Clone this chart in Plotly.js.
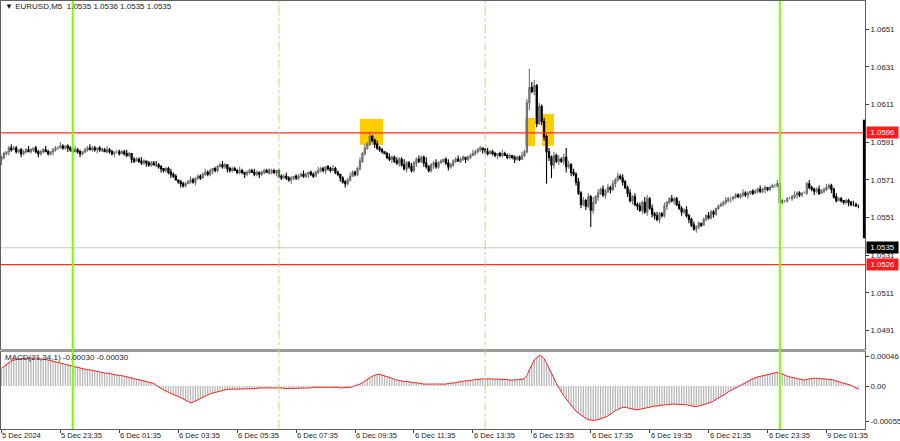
<!DOCTYPE html>
<html><head><meta charset="utf-8">
<script src="https://cdn.plot.ly/plotly-3.0.1.min.js"></script>
<style>html,body{margin:0;padding:0;background:#fff;}#chart{width:900px;height:441px;}</style>
</head><body><div id="chart"></div>
<script>
// ---- data (prices in pips above basePrice; MACD in points of 0.00001) ----
const basePrice = 1.05;
const firstOpen = 82;
const closePips = [
83,85,86,88,87,88,86,87,85,86,87,86,87,88,86,85,86,87,86,85,86,87,88,88,89,
88,89,88,87,86,87,86,85,86,87,88,87,88,87,88,87,87,86,87,86,85,86,86,85,86,
85,84,85,82,81,82,81,80,81,80,79,80,79,79,78,77,76,77,75,74,73,71,70,69,68,
69,70,71,70,72,73,72,74,75,74,76,77,76,78,79,78,79,77,76,77,76,75,76,75,74,
75,76,75,74,75,74,75,76,75,75,76,75,76,73,72,73,72,71,72,73,72,73,74,73,74,
75,74,73,75,76,77,76,78,77,76,77,75,74,72,70,69,71,73,75,74,77,81,85,88,90,
94,92,90,88,87,86,85,83,82,83,81,80,82,79,77,80,78,76,80,82,81,83,80,78,76,
79,80,78,80,81,82,80,78,79,81,82,81,82,83,82,83,84,85,86,87,88,87,86,85,86,
85,84,85,84,85,84,83,84,83,82,83,82,84,86,112,120,118,121,101,110,102,94,86,83,79,
84,81,82,81,83,78,79,75,74,70,64,58,60,57,62,55,59,62,64,66,63,65,67,66,69,
71,73,72,70,67,64,60,62,58,57,55,59,54,61,56,53,52,50,53,52,57,59,61,60,61,
58,56,54,55,52,50,47,45,46,48,47,50,52,51,54,53,56,57,58,59,60,61,61,62,63,
62,63,64,63,64,65,64,65,66,65,66,67,66,67,68,68,69,59,60,60,61,61,62,63,64,
63,64,64,69,67,66,65,66,64,65,66,67,68,66,62,60,61,60,59,60,59,58,58,57,57];
const wickUp = [
1,1,0,1,2,1,1,0,1,1,1,2,1,0,1,1,1,1,2,1,0,1,1,1,2,
1,0,1,1,1,2,1,1,0,1,1,2,1,1,0,1,1,1,2,1,1,0,1,1,1,
1,2,1,0,1,1,1,2,1,0,1,1,1,2,1,1,0,1,1,2,1,1,0,1,1,
1,1,2,1,0,1,1,1,2,1,1,0,1,1,1,2,1,0,1,1,1,1,2,1,0,
1,1,1,2,1,0,1,1,1,2,1,1,0,1,1,1,2,1,1,0,1,1,1,2,1,
0,1,1,1,2,1,1,0,1,1,2,1,1,0,1,1,1,2,1,1,1,2,1,2,1,
2,1,1,2,1,1,0,1,2,1,1,2,1,1,3,1,1,2,1,1,2,1,1,3,1,
1,1,2,1,1,0,1,2,1,1,1,2,1,1,0,1,1,2,1,1,1,0,1,2,1,
1,1,0,1,2,1,1,1,0,1,1,1,2,1,2,10,3,3,1,2,1,2,1,2,1,
2,1,2,1,2,5,2,1,2,1,2,1,2,1,2,1,3,1,2,1,2,1,2,1,2,
1,2,1,2,1,1,2,1,2,1,2,1,3,2,1,2,1,2,1,1,2,1,1,2,1,
1,2,1,1,2,1,1,2,1,1,0,1,1,2,1,1,0,1,1,1,2,1,1,0,1,
1,1,2,1,1,0,1,1,1,2,1,1,0,1,1,1,2,1,1,0,1,1,1,2,1,
1,0,1,1,2,1,1,1,2,1,1,2,1,1,1,2,1,1,0,1,1,1,2,1,1];
const wickDown = [
3,1,1,2,1,0,1,1,2,1,1,0,1,1,1,2,1,1,0,1,1,2,1,1,0,
1,1,2,1,1,0,1,2,1,1,1,0,1,1,2,1,1,0,1,1,1,2,1,1,0,
1,1,1,2,1,0,1,1,1,2,1,1,0,1,1,2,1,1,1,2,1,0,1,2,1,
1,0,1,1,2,1,1,0,1,1,1,2,1,1,0,1,1,2,1,1,0,1,1,1,2,
1,1,0,1,1,2,1,1,0,1,1,1,2,1,1,0,1,1,2,1,1,1,0,1,1,
2,1,1,0,1,1,1,2,1,1,0,1,1,2,1,2,1,1,0,1,1,1,1,1,1,
1,1,2,1,1,1,0,1,1,2,1,1,2,1,1,2,1,1,1,2,1,1,2,1,1,
1,2,1,1,0,1,1,2,1,1,1,0,1,1,2,1,1,0,1,1,1,2,1,1,0,
1,1,2,1,1,0,1,1,1,2,1,1,0,1,1,4,1,2,2,1,2,2,17,2,7,
2,1,2,1,2,3,1,2,1,2,1,2,1,2,1,9,2,1,2,1,1,2,1,2,1,
2,1,1,2,1,2,1,2,1,2,1,2,1,2,1,2,2,1,2,1,1,2,1,1,2,
1,1,2,1,1,2,1,1,2,1,1,0,1,1,1,2,1,1,0,1,1,1,2,1,1,
0,1,1,1,2,1,1,0,1,1,1,2,1,1,0,1,1,2,1,1,1,0,1,1,2,
1,1,0,1,1,1,2,1,1,0,1,1,1,2,1,1,0,1,1,1,2,1,1,0,1];
const macdPoints = [
27,30,34,37,39,40,41,42,42,43,43,43,44,44,43,43,42,42,41,40,39,38,37,36,35,34,34,33,32,31,
30,29,28,27,26,25,25,24,23,22,22,21,20,20,19,18,18,17,16,16,15,15,14,13,12,11,10,9,8,7,
6,5,4,1,-2,-4,-6,-8,-10,-12,-13,-15,-16,-18,-20,-22,-24,-26,-25,-23,-21,-19,-17,-15,-14,-12,-11,-10,-8,-7,
-6,-6,-5,-5,-5,-5,-5,-5,-5,-4,-4,-4,-4,-4,-4,-3,-3,-3,-3,-3,-2,-2,-2,-2,-3,-4,-4,-4,-4,-4,
-4,-4,-3,-3,-3,-3,-3,-2,-2,-2,-2,-2,-1,-1,-1,-2,-2,-2,-3,-3,-3,-3,-2,-1,0,1,3,5,8,11,
13,15,17,18,18,17,16,15,13,12,10,9,8,7,7,7,6,6,5,5,4,4,3,3,3,2,2,2,2,3,
3,3,4,4,5,5,6,7,7,8,8,9,9,10,10,11,11,11,11,10,10,10,11,11,10,10,10,9,9,9,
9,9,10,12,16,25,33,40,44,47,46,42,35,28,20,12,4,-3,-9,-15,-20,-25,-30,-35,-39,-42,-45,-48,-50,-52,
-53,-53,-53,-52,-51,-49,-48,-46,-44,-41,-38,-36,-34,-33,-33,-34,-35,-36,-37,-37,-36,-35,-34,-33,-32,-32,-31,-31,-30,-30,
-29,-29,-28,-28,-28,-28,-28,-28,-29,-29,-30,-31,-32,-32,-31,-30,-29,-28,-27,-25,-23,-21,-19,-17,-14,-12,-9,-7,-4,-2,
0,2,4,6,8,10,12,13,14,15,16,17,18,19,20,20,21,20,19,17,15,14,13,12,11,10,10,9,10,11,
12,12,12,11,11,11,10,10,10,9,8,7,6,5,4,2,1,-1,-3,-5];
const timeTickIdx = [0,24,48,72,96,120,144,168,192,216,240,264,288,312,336];
const timeTickText = ['5 Dec 2024','5 Dec 23:35','6 Dec 01:35','6 Dec 03:35','6 Dec 05:35','6 Dec 07:35','6 Dec 09:35','6 Dec 11:35','6 Dec 13:35','6 Dec 15:35','6 Dec 17:35','6 Dec 19:35','6 Dec 21:35','6 Dec 23:35','9 Dec 01:35'];
const priceTicks = [1.0651,1.0631,1.0611,1.0591,1.0571,1.0551,1.0531,1.0511,1.0491];
const macdTicks = [0.00046,0,-0.00055];
const macdTickText = ['0.00046','0.00','-0.00055'];
const levelLines = [1.0596,1.0526];
const bidPrice = 1.0535;
const dayStartIdx = [29,317];
const sessionIdx = [113,197];
const boxStart = [146.0,213.2,220.2];
const boxEnd = [155.4,217.3,225.0];
const boxTop = [1.06034,1.06039,1.06061];
const boxBottom = [1.05896,1.05891,1.05891];
const edgeSpike = [1.0603,1.0540];
const headerText = '\u25BC EURUSD,M5  1.0535 1.0536 1.0535 1.0535';
const macdLabel = 'MACD(21,34,1) -0.00030 -0.00030';

// ---- build traces ----
const idx = [], o = [], h = [], l = [], c = [];
for (let i = 0; i < closePips.length; i++) {
  const op = i === 0 ? firstOpen : closePips[i-1];
  const cl = closePips[i];
  idx.push(i);
  o.push(basePrice + op/10000);
  c.push(basePrice + cl/10000);
  h.push(basePrice + (Math.max(op,cl) + wickUp[i])/10000);
  l.push(basePrice + (Math.min(op,cl) - wickDown[i])/10000);
}
const macd = macdPoints.map(v => v/100000);

const FONT = 'Liberation Sans, Arial, sans-serif';
const TXT = '#1a1a1a';
const traces = [
  {type:'candlestick', x:idx, open:o, high:h, low:l, close:c, xaxis:'x', yaxis:'y',
   increasing:{line:{color:'#707070', width:1.1}, fillcolor:'#a8a8a8'},
   decreasing:{line:{color:'#000000', width:1.1}, fillcolor:'#000000'},
   whiskerwidth:0, hoverinfo:'skip'},
  {type:'bar', x:idx, y:macd, xaxis:'x2', yaxis:'y2', width:0.5,
   marker:{color:'#b4b4b4', line:{width:0}}, hoverinfo:'skip'},
  {type:'scatter', mode:'lines', x:idx, y:macd, xaxis:'x2', yaxis:'y2',
   line:{color:'#ff2020', width:1}, hoverinfo:'skip'}
];

const shapes = [];
shapes.push({type:'rect', xref:'paper', yref:'paper', x0:0, x1:1, y0:0.1799, y1:0.1869,
  fillcolor:'#9a9a9a', line:{width:0}, layer:'above'});
for (let k = 0; k < boxStart.length; k++) {
  shapes.push({type:'rect', xref:'x', yref:'y', x0:boxStart[k], x1:boxEnd[k], y0:boxBottom[k], y1:boxTop[k],
    fillcolor:'#ffcc00', line:{width:0}, layer:'below'});
}
shapes.push({type:'line', xref:'paper', yref:'y', x0:0, x1:1, y0:bidPrice, y1:bidPrice,
  line:{color:'#c8c8c8', width:1}, layer:'below'});
levelLines.forEach(v => shapes.push({type:'line', xref:'paper', yref:'y', x0:0, x1:1, y0:v, y1:v,
  line:{color:'#ff2a2a', width:1.3}, layer:'above'}));
sessionIdx.forEach(v => shapes.push({type:'line', xref:'x', yref:'paper', x0:v, x1:v, y0:0, y1:1,
  line:{color:'#a8e47c', width:1, dash:'dashdot'}, layer:'above'}));
dayStartIdx.forEach(v => shapes.push({type:'line', xref:'x', yref:'paper', x0:v, x1:v, y0:0, y1:1,
  line:{color:'#7cfc00', width:2}, layer:'above'}));
shapes.push({type:'line', xref:'paper', yref:'y', x0:0.999, x1:0.999, y0:edgeSpike[0], y1:edgeSpike[1],
  line:{color:'#000', width:2.5}, layer:'above'});

const annotations = [];
timeTickIdx.forEach((v, k) => annotations.push({xref:'x2', yref:'paper', x:v, y:0, xanchor:'left', yanchor:'top',
  yshift:0, xshift:-1, text:timeTickText[k], showarrow:false, font:{family:FONT, size:7.6, color:TXT}}));
levelLines.forEach(v => annotations.push({xref:'paper', yref:'y', x:1, y:v, xanchor:'left', yanchor:'middle',
  xshift:1, text:v.toFixed(4), showarrow:false, bgcolor:'#ff1a1a', borderpad:1, width:29,
  font:{family:FONT, size:7.8, color:'#ffffff'}}));
annotations.push({xref:'paper', yref:'y', x:1, y:bidPrice, xanchor:'left', yanchor:'middle',
  xshift:1, text:bidPrice.toFixed(4), showarrow:false, bgcolor:'#000000', borderpad:1, width:29,
  font:{family:FONT, size:7.8, color:'#ffffff'}});
annotations.push({xref:'paper', yref:'paper', x:0, y:0.986, xanchor:'left', yanchor:'middle', xshift:2,
  text:headerText, showarrow:false, font:{family:FONT, size:8, color:TXT}});
annotations.push({xref:'paper', yref:'paper', x:0, y:0.168, xanchor:'left', yanchor:'middle', xshift:2,
  text:macdLabel, showarrow:false, font:{family:FONT, size:8, color:TXT}});

const xRange = [-0.2, 351.7];
const axisCommon = {showgrid:false, zeroline:false, showline:true, mirror:true, linecolor:'#606060', linewidth:1};
const layout = {
  width:900, height:441, margin:{l:1, r:35, t:1, b:12},
  paper_bgcolor:'#ffffff', plot_bgcolor:'#ffffff', showlegend:false,
  font:{family:FONT, size:7.8, color:TXT},
  xaxis:Object.assign({domain:[0,1], anchor:'y', range:xRange, showticklabels:false, ticks:'',
    rangeslider:{visible:false}, fixedrange:true}, axisCommon),
  yaxis:Object.assign({domain:[0.1869,1], anchor:'x', side:'right', range:[1.048124,1.066601],
    tickvals:priceTicks, ticktext:priceTicks.map(v => v.toFixed(4)), ticks:'outside', ticklen:3,
    tickcolor:'#404040', tickfont:{family:FONT, size:7.8, color:TXT}}, axisCommon),
  xaxis2:Object.assign({domain:[0,1], anchor:'y2', matches:'x', range:xRange, tickvals:timeTickIdx,
    ticks:'outside', ticklen:3, tickcolor:'#404040', showticklabels:false}, axisCommon),
  yaxis2:Object.assign({domain:[0,0.1799], anchor:'x2', side:'right', range:[-0.000664,0.000525],
    tickvals:macdTicks, ticktext:macdTickText, ticks:'outside', ticklen:3, tickcolor:'#404040',
    tickfont:{family:FONT, size:7.8, color:TXT}}, axisCommon),
  bargap:0.5,
  shapes:shapes, annotations:annotations
};
Plotly.newPlot('chart', traces, layout, {staticPlot:true, displayModeBar:false});
</script>
</body></html>
